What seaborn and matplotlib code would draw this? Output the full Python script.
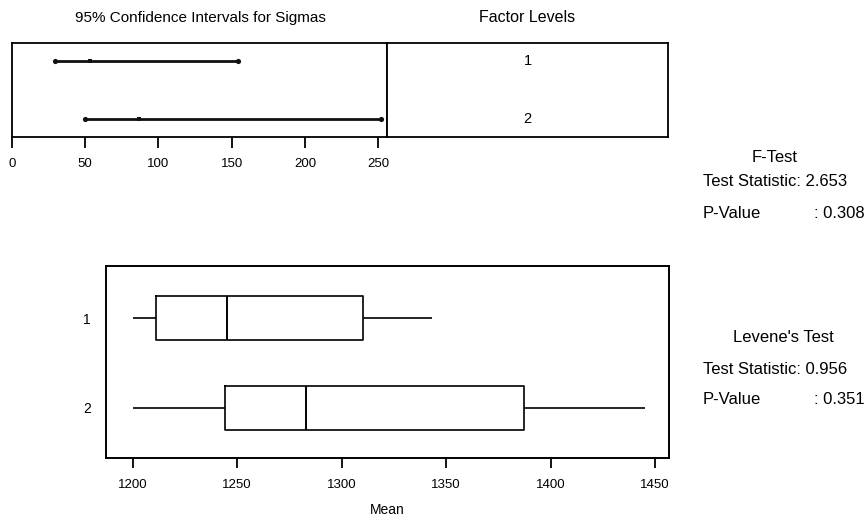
import numpy as np
import pandas as pd
import matplotlib
matplotlib.use("Agg")
import matplotlib.pyplot as plt
import seaborn as sns

# ---- data ---------------------------------------------------------------
levels = ["1", "2"]
sigma_est = [53.3, 86.8]
ci_low = [29.2, 49.8]
ci_high = [154.6, 252.0]

# five-number summaries of each factor level (min, Q1, median, Q3, max)
level1_summary = [1200.0, 1211.0, 1245.0, 1310.0, 1343.0]
level2_summary = [1200.0, 1244.0, 1283.0, 1387.0, 1445.0]

sigma_ticks = [0, 50, 100, 150, 200, 250]
mean_ticks = [1200, 1250, 1300, 1350, 1400, 1450]

f_stat, f_p = 2.653, 0.308
lev_stat, lev_p = 0.956, 0.351

# ---- figure -------------------------------------------------------------
sns.set_theme(style="white")
plt.rcParams["font.family"] = ["Liberation Sans", "DejaVu Sans"]
plt.rcParams["text.color"] = "black"
plt.rcParams["axes.labelcolor"] = "black"
plt.rcParams["xtick.color"] = "black"
plt.rcParams["ytick.color"] = "black"

W, H = 868, 517
fig = plt.figure(figsize=(W / 100, H / 100), dpi=100)
fig.patch.set_facecolor("white")


def px_axes(x0, y0, x1, y1):
    return fig.add_axes([x0 / W, 1 - y1 / H, (x1 - x0) / W, (y1 - y0) / H])


def frame(ax, lw=1.3):
    for s in ax.spines.values():
        s.set_visible(True)
        s.set_color("black")
        s.set_linewidth(lw)
    ax.set_facecolor("white")


# confidence intervals for sigmas
ax_ci = px_axes(12, 43, 387, 137)
frame(ax_ci)
ci_df = pd.DataFrame({"level": levels, "sigma": sigma_est,
                      "low": ci_low, "high": ci_high, "row": [0, 1]})
ax_ci.hlines(ci_df["row"], ci_df["low"], ci_df["high"], color="#111111", lw=2.0)
ends = pd.DataFrame({"x": ci_low + ci_high, "row": [0, 1, 0, 1]})
sns.scatterplot(data=ends, x="x", y="row", ax=ax_ci, color="#111111",
                marker="o", s=14, linewidth=0, zorder=3, legend=False)
sns.scatterplot(data=ci_df, x="sigma", y="row", ax=ax_ci, color="#111111",
                marker="s", s=12, linewidth=0, zorder=3, legend=False)
ax_ci.set_xlim(0, 256)
ax_ci.set_ylim(1.31, -0.31)
ax_ci.set_yticks([])
ax_ci.set_xticks(sigma_ticks)
ax_ci.set_xticklabels([str(t) for t in sigma_ticks], fontsize=9.5)
ax_ci.tick_params(axis="x", direction="out", length=8, width=1.3,
                  bottom=True, pad=7, colors="black")
ax_ci.set_xlabel("")
ax_ci.set_ylabel("")
fig.text(200 / W, 1 - 18 / H, "95% Confidence Intervals for Sigmas",
         ha="center", va="center", fontsize=11)

# factor level labels
ax_fl = px_axes(387, 43, 668, 137)
frame(ax_fl)
ax_fl.set_xlim(0, 1)
ax_fl.set_ylim(1.31, -0.31)
ax_fl.set_xticks([])
ax_fl.set_yticks([])
for i, lv in enumerate(levels):
    ax_fl.text(0.5, i, lv, ha="center", va="center", fontsize=10.5)
fig.text(527 / W, 1 - 18 / H, "Factor Levels", ha="center", va="center",
         fontsize=11.5)

# boxplots of the raw values
box_df = pd.DataFrame({
    "level": ["1"] * len(level1_summary) + ["2"] * len(level2_summary),
    "value": level1_summary + level2_summary,
})
ax_bx = px_axes(106, 266, 669, 458)
sns.boxplot(data=box_df, x="value", y="level", order=levels, ax=ax_bx,
            orient="h", whis=np.inf, width=0.49, fill=False, color="black",
            linewidth=1.2, showfliers=False,
            medianprops=dict(color="black", linewidth=1.4),
            whiskerprops=dict(color="black", linewidth=1.2),
            capprops=dict(linewidth=0),
            boxprops=dict(color="black", linewidth=1.2))
frame(ax_bx, lw=1.4)
ax_bx.set_xlim(1187.2, 1456.6)
ax_bx.set_ylim(1.56, -0.58)
ax_bx.set_xticks(mean_ticks)
ax_bx.set_xticklabels([str(t) for t in mean_ticks], fontsize=9.5)
ax_bx.tick_params(axis="x", direction="out", length=7, width=1.3,
                  bottom=True, pad=8, colors="black")
ax_bx.tick_params(axis="y", length=0, pad=11, labelsize=10, colors="black")
ax_bx.set_ylabel("")
ax_bx.set_xlabel("Mean", fontsize=10, labelpad=9, color="black")

# test results
tx = 703 / W
rx = 865 / W
fs = 12
fig.text(775 / W, 1 - 157 / H, "F-Test", ha="center", va="center", fontsize=fs)
fig.text(tx, 1 - 182 / H, f"Test Statistic: {f_stat:.3f}", ha="left",
         va="center", fontsize=fs)
fig.text(tx, 1 - 213 / H, "P-Value", ha="left", va="center", fontsize=fs)
fig.text(rx, 1 - 213 / H, f": {f_p:.3f}", ha="right", va="center",
         fontsize=fs)

fig.text(783 / W, 1 - 338 / H, "Levene's Test", ha="center", va="center",
         fontsize=fs)
fig.text(tx, 1 - 369 / H, f"Test Statistic: {lev_stat:.3f}", ha="left",
         va="center", fontsize=fs)
fig.text(tx, 1 - 400 / H, "P-Value", ha="left", va="center", fontsize=fs)
fig.text(rx, 1 - 400 / H, f": {lev_p:.3f}", ha="right", va="center",
         fontsize=fs)

fig.savefig("out.png", dpi=100, facecolor="white")
